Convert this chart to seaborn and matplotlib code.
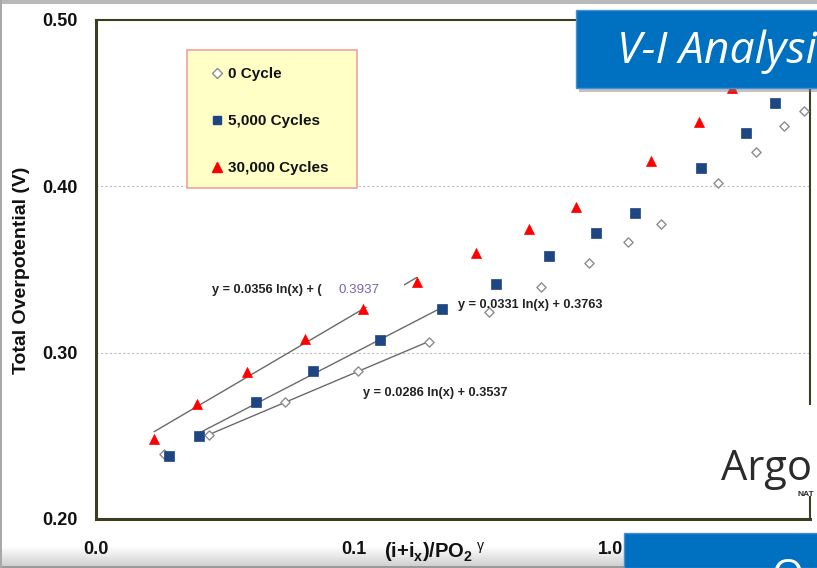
import numpy as np
import pandas as pd
import matplotlib
matplotlib.use("Agg")
import matplotlib.pyplot as plt
import seaborn as sns
from matplotlib.patches import Rectangle
from matplotlib.lines import Line2D
from matplotlib.ticker import FixedLocator, MultipleLocator, LogLocator, NullFormatter

# ---------------- data ----------------
series_names = ["0 Cycle", "5,000 Cycles", "30,000 Cycles"]

x_0cyc = [0.0184, 0.0275, 0.0542, 0.104, 0.196, 0.336, 0.535, 0.821, 1.16, 1.56, 2.60, 3.66, 4.70, 5.62]
y_0cyc = [0.2390, 0.2505, 0.2704, 0.2890, 0.3064, 0.3245, 0.3395, 0.3539, 0.3666, 0.3774, 0.4020, 0.4207, 0.4363, 0.4453]

x_5k = [0.0192, 0.0251, 0.0418, 0.0696, 0.127, 0.221, 0.358, 0.574, 0.874, 1.24, 2.24, 3.34, 4.34]
y_5k = [0.2379, 0.2499, 0.2704, 0.2890, 0.3076, 0.3263, 0.3413, 0.3581, 0.3720, 0.3840, 0.4111, 0.4321, 0.4501]

x_30k = [0.0168, 0.0247, 0.0386, 0.0648, 0.109, 0.1765, 0.299, 0.480, 0.731, 1.43, 2.20, 2.95]
y_30k = [0.2481, 0.2692, 0.2884, 0.3082, 0.3263, 0.3425, 0.3600, 0.3744, 0.3876, 0.4153, 0.4387, 0.4592]

# points used for the logarithmic trend lines (start, stop index)
fit_range_0cyc = (1, 5)
fit_range_5k = (1, 6)
fit_range_30k = (0, 6)

trend_labels = ["y = 0.0286 ln(x) + 0.3537", "y = 0.0331 ln(x) + 0.3763", "y = 0.0356 ln(x) + ("]
trend_label_extra = "0.3937"

x_ticks = [0.01, 0.1, 1.0]
x_tick_labels = ["0.0", "0.1", "1.0"]
y_ticks = [0.20, 0.30, 0.40, 0.50]
y_tick_labels = ["0.20", "0.30", "0.40", "0.50"]

# ---------------- style ----------------
sns.set_theme(style="white")
plt.rcParams["font.family"] = ["Liberation Sans", "DejaVu Sans"]
plt.rcParams["mathtext.fontset"] = "custom"
plt.rcParams["mathtext.rm"] = "Liberation Sans"
plt.rcParams["mathtext.bf"] = "Liberation Sans:bold"
plt.rcParams["mathtext.it"] = "Liberation Sans:italic"

W, H = 817, 568
fig = plt.figure(figsize=(W / 100, H / 100), dpi=100)
fig.patch.set_facecolor("white")

def fx(px):
    return px / W

def fy(py):
    return 1 - py / H

ax = fig.add_axes([fx(96), fy(519), fx(810) - fx(96), fy(20) - fy(519)])
ax.set_zorder(1)
ax.set_facecolor("white")

ax.set_xscale("log")
ax.set_xlim(0.01, 5.93)
ax.set_ylim(0.20, 0.50)

col_d = "#8c8c8c"
col_s = "#1d4683"
col_t = "#ff0000"
line_col = "#6a6a6a"

# trend lines
def trend(xv, yv, rng):
    lo, hi = rng
    xa = np.array(xv[lo:hi]); ya = np.array(yv[lo:hi])
    a, b = np.polyfit(np.log(xa), ya, 1)
    xs = np.geomspace(xa.min(), xa.max(), 60)
    return pd.DataFrame({"x": xs, "y": a * np.log(xs) + b})

for xv, yv, rng in [(x_0cyc, y_0cyc, fit_range_0cyc), (x_5k, y_5k, fit_range_5k), (x_30k, y_30k, fit_range_30k)]:
    t = trend(xv, yv, rng)
    sns.lineplot(data=t, x="x", y="y", ax=ax, color=line_col, lw=1.0, zorder=2, legend=False)

# white patch hiding part of the red trend line (label box)
ax.add_patch(Rectangle((0.0752, 0.3275), 0.157 - 0.0752, 0.3430 - 0.3275, facecolor="white",
                       edgecolor="none", zorder=2.5))

df0 = pd.DataFrame({"x": x_0cyc, "y": y_0cyc})
df5 = pd.DataFrame({"x": x_5k, "y": y_5k})
df30 = pd.DataFrame({"x": x_30k, "y": y_30k})

sns.scatterplot(data=df0, x="x", y="y", ax=ax, marker="D", s=22, facecolor="white",
                edgecolor=col_d, linewidth=1.0, zorder=3, legend=False)
sns.scatterplot(data=df5, x="x", y="y", ax=ax, marker="s", s=44, color=col_s,
                edgecolor=col_s, linewidth=0.5, zorder=3.1, legend=False)
sns.scatterplot(data=df30, x="x", y="y", ax=ax, marker="^", s=52, color=col_t,
                edgecolor=col_t, linewidth=0.5, zorder=3.2, legend=False)

ax.set_xlabel("")
ax.set_ylabel("")

# grid
for gy in [0.30, 0.40]:
    ax.axhline(gy, color="#bdbdbd", lw=0.8, ls=(0, (2, 2)), zorder=1)

# ticks
ax.xaxis.set_major_locator(FixedLocator(x_ticks))
ax.set_xticklabels(x_tick_labels)
ax.xaxis.set_minor_locator(LogLocator(base=10, subs=np.arange(2, 10)))
ax.xaxis.set_minor_formatter(NullFormatter())
ax.yaxis.set_major_locator(FixedLocator(y_ticks))
ax.set_yticklabels(y_tick_labels)
ax.yaxis.set_minor_locator(MultipleLocator(0.02))

spine_col = "#3d3d22"
ax.tick_params(which="both", direction="in", color="#333333")
ax.tick_params(which="major", length=5, width=1)
ax.tick_params(which="minor", length=4, width=1)
ax.tick_params(axis="y", which="major", pad=13, labelsize=13)
ax.tick_params(axis="x", which="major", pad=16, labelsize=13)
for lab in ax.get_xticklabels() + ax.get_yticklabels():
    lab.set_fontweight("bold")
    lab.set_color("#111111")

for side, lw in [("left", 2.2), ("bottom", 2.2), ("top", 1.5), ("right", 1.5)]:
    ax.spines[side].set_visible(True)
    ax.spines[side].set_color(spine_col)
    ax.spines[side].set_linewidth(lw)

# trend line labels
lab_fs = 9.2
ax.text(0.1089, 0.2758, trend_labels[0], fontsize=lab_fs, fontweight="bold", color="#222222",
        va="center", ha="left", zorder=4)
ax.text(0.2547, 0.3287, trend_labels[1], fontsize=lab_fs, fontweight="bold", color="#222222",
        va="center", ha="left", zorder=4)
ax.text(0.0282, 0.3377, trend_labels[2], fontsize=lab_fs, fontweight="bold", color="#222222",
        va="center", ha="left", zorder=2.4)
ax.text(0.0871, 0.3377, trend_label_extra, fontsize=9.6, color="#7b62b3",
        va="center", ha="left", zorder=4)

# legend box
ax.add_patch(Rectangle((0.1275, 0.6633), 0.3655 - 0.1275, 0.9399 - 0.6633, transform=ax.transAxes,
                       facecolor="#ffffc6", edgecolor="#f4a0a0", lw=1.2, zorder=5))
handles = [
    Line2D([], [], ls="none", marker="D", markersize=4.6, markerfacecolor="white",
           markeredgecolor=col_d, markeredgewidth=1.0),
    Line2D([], [], ls="none", marker="s", markersize=6.3, markerfacecolor=col_s,
           markeredgecolor=col_s),
    Line2D([], [], ls="none", marker="^", markersize=6.5, markerfacecolor=col_t,
           markeredgecolor=col_t),
]
leg = ax.legend(handles, series_names, loc="upper left", bbox_to_anchor=(0.1597, 0.905),
                frameon=False, borderpad=0, borderaxespad=0, handlelength=0.9,
                handletextpad=0.3, labelspacing=2.15, prop={"weight": "bold", "size": 11})
leg.set_zorder(6)
for t in leg.get_texts():
    t.set_color("#111111")

# axis labels
fig.text(fx(22), fy(270), "Total Overpotential (V)", rotation=90, ha="center", va="center",
         fontsize=14, fontweight="bold", color="#111111")
fig.text(fx(435), fy(552), r"$\mathbf{(i{+}i_x)/PO_2}^{\ \mathrm{\gamma}}$", ha="center", va="center",
         fontsize=14.5, color="#111111")

# ---------------- slide decorations ----------------
# bottom shadow gradient
gax = fig.add_axes([0, 0, 1, 22 / H])
gax.set_zorder(-1)
grad = np.linspace(1.0, 0.8, 40).reshape(-1, 1)
gax.imshow(np.dstack([grad, grad, grad]), aspect="auto", extent=[0, 1, 1, 0])
gax.set_axis_off()

fig.add_artist(Rectangle((0, 0), 1, 2.5 / H, transform=fig.transFigure, facecolor="#9a9a9a",
                         edgecolor="none", zorder=7))
fig.add_artist(Rectangle((0, fy(4)), 1, 4 / H, transform=fig.transFigure, facecolor="#b8b8b8",
                         edgecolor="none", zorder=7))
fig.add_artist(Rectangle((0, 0), 2 / W, 1, transform=fig.transFigure, facecolor="#a8a8a8",
                         edgecolor="none", zorder=7))

# V-I Analysis banner
fig.add_artist(Rectangle((fx(579), fy(92)), fx(830) - fx(579), (92 - 13) / H, transform=fig.transFigure,
                         facecolor="#7a7a7a", alpha=0.45, edgecolor="none", zorder=8))
fig.add_artist(Rectangle((fx(576), fy(88)), fx(830) - fx(576), (88 - 10) / H, transform=fig.transFigure,
                         facecolor="#0070c0", edgecolor="#4b8fd0", lw=1, zorder=9))
fig.text(fx(617), fy(63), "V-I Analysis", fontsize=32, style="italic", color="white",
         family=["Open Sans", "DejaVu Sans"], ha="left", va="baseline", zorder=10)

# Argonne logo area
fig.add_artist(Rectangle((fx(700), fy(496)), fx(817) - fx(700), (496 - 405) / H, transform=fig.transFigure,
                         facecolor="white", edgecolor="none", zorder=8))
fig.text(fx(721), fy(480), "Argo", fontsize=30, color="#2b2b2b", family=["Open Sans", "DejaVu Sans"],
         ha="left", va="baseline", zorder=10)
fig.text(fx(797), fy(496), "NAT", fontsize=6, fontweight="bold", color="#2b2b2b",
         ha="left", va="baseline", zorder=10)

# bottom-right blue box
fig.add_artist(Rectangle((fx(624), 0), fx(830) - fx(624), (568 - 533) / H, transform=fig.transFigure,
                         facecolor="#0070c0", edgecolor="#4b8fd0", lw=1, zorder=9))
fig.text(fx(772), fy(589), "O", fontsize=30, color="white", family=["Open Sans", "DejaVu Sans"],
         ha="left", va="baseline", zorder=10)

fig.savefig("out.png", dpi=100, facecolor="white")
